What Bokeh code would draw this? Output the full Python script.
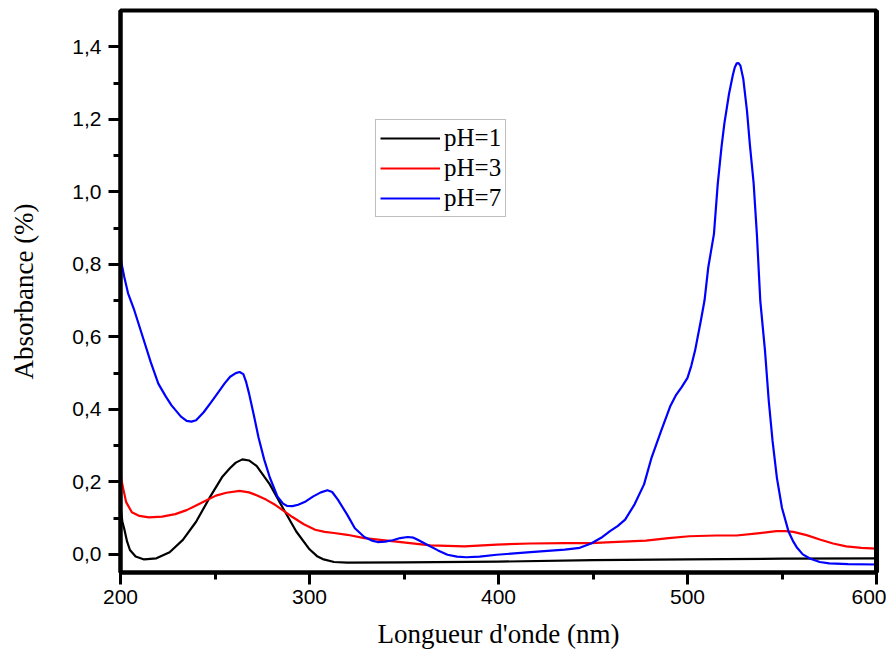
from bokeh.plotting import figure
from bokeh.models import (ColumnDataSource, FixedTicker, CustomJSTickFormatter,
                          Legend, LegendItem, Range1d, LinearAxis)
from bokeh.embed import file_html
from bokeh.resources import INLINE

# ---- data ----
wl_ph1 = [200, 201, 202, 203.5, 205, 208, 212.5, 219, 226, 233, 240, 247, 254,
          258, 261, 264.5, 268, 272, 279, 286, 293, 300, 304, 307, 313, 320,
          350, 400, 450, 500, 550, 600]
abs_ph1 = [0.13, 0.09, 0.07, 0.035, 0.012, -0.006, -0.014, -0.011, 0.006,
           0.04, 0.09, 0.155, 0.215, 0.238, 0.253, 0.262, 0.259, 0.244, 0.193,
           0.127, 0.063, 0.014, -0.005, -0.013, -0.021, -0.023, -0.022, -0.02,
           -0.016, -0.014, -0.012, -0.011]

wl_ph3 = [200, 201.5, 203, 206, 210, 215, 222, 229, 235, 240, 245, 250.5, 256,
          263, 268, 272, 277, 282, 291, 297, 303, 308, 313, 320, 329, 346, 364,
          382, 399, 417, 435, 449, 460, 478, 490, 501, 515, 526, 537, 547,
          552, 556, 563, 570, 577, 584, 592, 600]
abs_ph3 = [0.218, 0.18, 0.144, 0.116, 0.106, 0.102, 0.104, 0.111, 0.122,
           0.135, 0.148, 0.162, 0.170, 0.175, 0.171, 0.163, 0.151, 0.136,
           0.103, 0.083, 0.068, 0.062, 0.059, 0.054, 0.045, 0.035, 0.025,
           0.022, 0.027, 0.03, 0.031, 0.031, 0.034, 0.038, 0.045, 0.05, 0.052,
           0.052, 0.058, 0.064, 0.064, 0.062, 0.053, 0.041, 0.03, 0.022, 0.018,
           0.016]

wl_ph7 = [200, 202, 204, 207, 212, 216, 220, 224, 227, 232, 235, 237.5, 240,
          244, 248, 252, 255, 258, 261, 263, 265, 266.5, 268, 270.5, 273,
          276, 279, 283, 286, 288, 291, 294, 298, 302, 306, 309.5, 312, 315,
          320, 324, 329, 333, 336, 340, 344, 348, 352, 355, 357, 362, 368,
          373, 378, 383, 390, 399, 417, 435, 443, 449, 455, 459, 463, 467,
          472, 477, 481, 486, 491, 494, 497, 500, 502, 504, 507, 509, 511,
          514, 516, 518, 519.5, 522, 524, 525, 526, 527, 528, 529.5, 531.5,
          533, 535, 536.7, 538.5, 541, 543, 545, 547.3, 550, 553.4, 556,
          558, 561, 565, 570, 575, 585, 600]
abs_ph7 = [0.817, 0.765, 0.72, 0.678, 0.596, 0.53, 0.471, 0.435, 0.411,
           0.38, 0.368, 0.366, 0.370, 0.392, 0.420, 0.449, 0.471, 0.49,
           0.500, 0.503, 0.497, 0.475, 0.444, 0.385, 0.323, 0.262, 0.212,
           0.16, 0.14, 0.134, 0.133, 0.137, 0.146, 0.16, 0.171, 0.177,
           0.172, 0.151, 0.109, 0.072, 0.048, 0.038, 0.034, 0.035, 0.039,
           0.045, 0.048, 0.046, 0.041, 0.027, 0.011, -0.001, -0.006, -0.008,
           -0.006, -0.001, 0.006, 0.013, 0.018, 0.03, 0.048, 0.064, 0.078,
           0.096, 0.138, 0.193, 0.267, 0.34, 0.41, 0.44, 0.462, 0.487, 0.52,
           0.562, 0.643, 0.7, 0.792, 0.884, 1.022, 1.124, 1.188, 1.271, 1.322,
           1.343, 1.354, 1.355, 1.348, 1.312, 1.222, 1.13, 1.023, 0.884, 0.7,
           0.562, 0.423, 0.313, 0.211, 0.128, 0.064, 0.035, 0.018, 0.0,
           -0.012, -0.021, -0.025, -0.027, -0.028]

x_ticks = [200, 300, 400, 500, 600]
x_minor = [250, 350, 450, 550]
y_ticks = [0.0, 0.2, 0.4, 0.6, 0.8, 1.0, 1.2, 1.4]
y_minor = [0.1, 0.3, 0.5, 0.7, 0.9, 1.1, 1.3]

labels = ["pH=1", "pH=3", "pH=7"]
colors = ["#000000", "#ff0000", "#0000ff"]

p = figure(width=886, height=659, output_backend="svg", toolbar_location=None,
           x_range=Range1d(200, 600), y_range=Range1d(-0.05, 1.5),
           min_border_left=120, min_border_right=10, min_border_top=10,
           min_border_bottom=87)
p.background_fill_color = "white"
p.border_fill_color = "white"
p.grid.visible = False
p.outline_line_color = "black"
p.outline_line_width = 4

renderers = []
for wl, ab, col in [(wl_ph1, abs_ph1, colors[0]), (wl_ph3, abs_ph3, colors[1]),
                    (wl_ph7, abs_ph7, colors[2])]:
    src = ColumnDataSource(dict(x=wl, y=ab))
    r = p.line("x", "y", source=src, line_color=col, line_width=2.2,
               line_join="round")
    renderers.append(r)

for ax in (p.xaxis[0], p.yaxis[0]):
    ax.axis_line_width = 4
    ax.major_tick_line_width = 3
    ax.minor_tick_line_width = 3
    ax.major_tick_out = 12
    ax.major_tick_in = 0
    ax.minor_tick_out = 7
    ax.minor_tick_in = 0
    ax.major_label_text_font = "Liberation Sans"
    ax.major_label_text_font_size = "21px"
    ax.major_label_text_color = "black"
    ax.axis_label_text_font = "Liberation Serif"
    ax.axis_label_text_font_size = "27px"
    ax.axis_label_text_font_style = "normal"
    ax.axis_label_text_color = "black"

p.xaxis[0].ticker = FixedTicker(ticks=x_ticks, minor_ticks=x_minor)
p.yaxis[0].ticker = FixedTicker(ticks=y_ticks, minor_ticks=y_minor)
p.yaxis[0].formatter = CustomJSTickFormatter(
    code="return tick.toFixed(1).replace('.', ',');")
p.xaxis[0].axis_label = "Longueur d'onde (nm)"
p.yaxis[0].axis_label = "Absorbance (%)"
p.xaxis[0].major_label_standoff = 5
p.yaxis[0].major_label_standoff = 7
p.xaxis[0].axis_label_standoff = 12
p.yaxis[0].axis_label_standoff = 30

right_ax = LinearAxis(major_tick_line_color=None, minor_tick_line_color=None,
                      major_label_text_font_size="0px", axis_line_width=5,
                      ticker=FixedTicker(ticks=[]))
p.add_layout(right_ax, "right")

legend = Legend(items=[LegendItem(label=l, renderers=[r]) for l, r in zip(labels, renderers)],
                location=(255, 355), label_text_font="Liberation Serif",
                label_text_font_size="25px", label_text_color="black",
                glyph_width=60, glyph_height=28, label_height=28,
                label_standoff=4, spacing=2, padding=4,
                border_line_color="#808080", border_line_width=1.5,
                background_fill_color="white", background_fill_alpha=1.0)
p.add_layout(legend)

open("out.html", "w").write(file_html(p, INLINE))
